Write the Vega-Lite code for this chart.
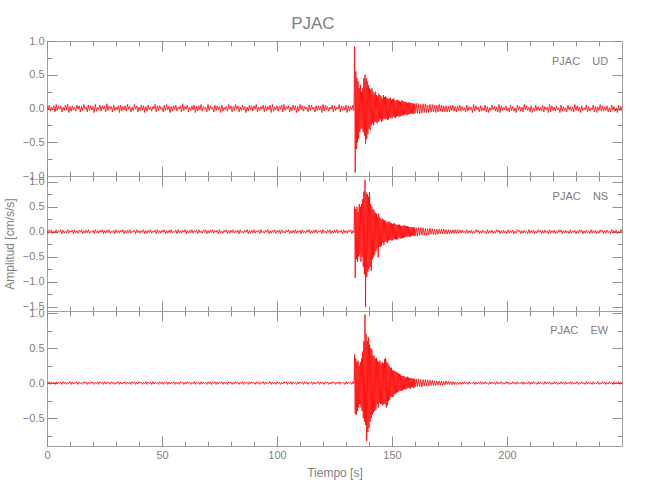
{
"$schema":"https://vega.github.io/schema/vega-lite/v6.json",
"background":"white",
"padding":{"left":2,"top":14,"right":5,"bottom":5},
"bounds":"flush",
"title":{"text":"PJAC","anchor":"middle","font":"Liberation Sans","fontSize":17,"fontWeight":"normal","color":"#808080","offset":2},
"config":{
 "font":"Liberation Sans",
 "view":{"stroke":"#a0a0a0","strokeWidth":1},
 "axis":{"domain":false,"grid":false,"tickColor":"#909090","tickWidth":1,"labelColor":"#808080","labelFont":"Liberation Sans","labelFontSize":11,"labelPadding":13,"titleColor":"#808080","titleFont":"Liberation Sans","titleFontSize":12,"titleFontWeight":"normal","labelFlush":false,"labelOverlap":false,"zindex":1},
 "concat":{"spacing":0}
},
"datasets":{"acc":[
{"t":0,"ud":0.03,"ns":0.02,"ew":0.01},{"t":1,"ud":0.05,"ns":0.04,"ew":0.02},{"t":2,"ud":0.02,"ns":0.03,"ew":0.015},{"t":3,"ud":0.04,"ns":0.01,"ew":0.01},{"t":4,"ud":0.06,"ns":0.04,"ew":0.02},{"t":5,"ud":0.03,"ns":0.02,"ew":0.015},{"t":6,"ud":0.04,"ns":0.04,"ew":0.01},{"t":7,"ud":0.02,"ns":0.03,"ew":0.02},{"t":8,"ud":0.05,"ns":0.01,"ew":0.015},{"t":9,"ud":0.06,"ns":0.04,"ew":0.01},
{"t":10,"ud":0.03,"ns":0.02,"ew":0.02},{"t":11,"ud":0.04,"ns":0.03,"ew":0.015},{"t":12,"ud":0.02,"ns":0.04,"ew":0.01},{"t":13,"ud":0.05,"ns":0.02,"ew":0.02},{"t":14,"ud":0.04,"ns":0.03,"ew":0.015},{"t":15,"ud":0.03,"ns":0.04,"ew":0.01},{"t":16,"ud":0.06,"ns":0.02,"ew":0.02},{"t":17,"ud":0.02,"ns":0.03,"ew":0.015},{"t":18,"ud":0.05,"ns":0.04,"ew":0.01},{"t":19,"ud":0.04,"ns":0.01,"ew":0.02},
{"t":20,"ud":0.03,"ns":0.03,"ew":0.015},{"t":21,"ud":0.06,"ns":0.04,"ew":0.01},{"t":22,"ud":0.02,"ns":0.02,"ew":0.02},{"t":23,"ud":0.05,"ns":0.03,"ew":0.015},{"t":24,"ud":0.04,"ns":0.04,"ew":0.01},{"t":25,"ud":0.03,"ns":0.02,"ew":0.02},{"t":26,"ud":0.07,"ns":0.03,"ew":0.015},{"t":27,"ud":0.04,"ns":0.04,"ew":0.01},{"t":28,"ud":0.03,"ns":0.01,"ew":0.02},{"t":29,"ud":0.05,"ns":0.03,"ew":0.015},
{"t":30,"ud":0.02,"ns":0.04,"ew":0.01},{"t":31,"ud":0.04,"ns":0.02,"ew":0.02},{"t":32,"ud":0.05,"ns":0.03,"ew":0.015},{"t":33,"ud":0.03,"ns":0.04,"ew":0.01},{"t":34,"ud":0.04,"ns":0.02,"ew":0.02},{"t":35,"ud":0.06,"ns":0.03,"ew":0.015},{"t":36,"ud":0.03,"ns":0.04,"ew":0.01},{"t":37,"ud":0.02,"ns":0.01,"ew":0.02},{"t":38,"ud":0.06,"ns":0.03,"ew":0.015},{"t":39,"ud":0.04,"ns":0.04,"ew":0.01},
{"t":40,"ud":0.02,"ns":0.02,"ew":0.02},{"t":41,"ud":0.05,"ns":0.03,"ew":0.015},{"t":42,"ud":0.04,"ns":0.04,"ew":0.01},{"t":43,"ud":0.03,"ns":0.02,"ew":0.02},{"t":44,"ud":0.05,"ns":0.03,"ew":0.015},{"t":45,"ud":0.02,"ns":0.04,"ew":0.01},{"t":46,"ud":0.03,"ns":0.01,"ew":0.02},{"t":47,"ud":0.06,"ns":0.03,"ew":0.015},{"t":48,"ud":0.04,"ns":0.04,"ew":0.01},{"t":49,"ud":0.04,"ns":0.02,"ew":0.02},
{"t":50,"ud":0.02,"ns":0.03,"ew":0.015},{"t":51,"ud":0.05,"ns":0.04,"ew":0.01},{"t":52,"ud":0.06,"ns":0.02,"ew":0.02},{"t":53,"ud":0.03,"ns":0.03,"ew":0.015},{"t":54,"ud":0.03,"ns":0.04,"ew":0.01},{"t":55,"ud":0.04,"ns":0.01,"ew":0.02},{"t":56,"ud":0.05,"ns":0.03,"ew":0.015},{"t":57,"ud":0.02,"ns":0.04,"ew":0.01},{"t":58,"ud":0.04,"ns":0.02,"ew":0.02},{"t":59,"ud":0.07,"ns":0.03,"ew":0.015},
{"t":60,"ud":0.03,"ns":0.04,"ew":0.01},{"t":61,"ud":0.05,"ns":0.02,"ew":0.02},{"t":62,"ud":0.02,"ns":0.03,"ew":0.015},{"t":63,"ud":0.04,"ns":0.04,"ew":0.01},{"t":64,"ud":0.05,"ns":0.02,"ew":0.02},{"t":65,"ud":0.03,"ns":0.03,"ew":0.015},{"t":66,"ud":0.04,"ns":0.04,"ew":0.01},{"t":67,"ud":0.06,"ns":0.01,"ew":0.02},{"t":68,"ud":0.03,"ns":0.03,"ew":0.015},{"t":69,"ud":0.02,"ns":0.04,"ew":0.01},
{"t":70,"ud":0.06,"ns":0.02,"ew":0.02},{"t":71,"ud":0.04,"ns":0.03,"ew":0.015},{"t":72,"ud":0.02,"ns":0.04,"ew":0.01},{"t":73,"ud":0.05,"ns":0.02,"ew":0.02},{"t":74,"ud":0.04,"ns":0.03,"ew":0.015},{"t":75,"ud":0.03,"ns":0.04,"ew":0.01},{"t":76,"ud":0.05,"ns":0.01,"ew":0.02},{"t":77,"ud":0.02,"ns":0.03,"ew":0.015},{"t":78,"ud":0.03,"ns":0.04,"ew":0.01},{"t":79,"ud":0.06,"ns":0.02,"ew":0.02},
{"t":80,"ud":0.04,"ns":0.03,"ew":0.015},{"t":81,"ud":0.03,"ns":0.04,"ew":0.01},{"t":82,"ud":0.06,"ns":0.02,"ew":0.02},{"t":83,"ud":0.04,"ns":0.03,"ew":0.015},{"t":84,"ud":0.02,"ns":0.04,"ew":0.01},{"t":85,"ud":0.05,"ns":0.01,"ew":0.02},{"t":86,"ud":0.03,"ns":0.03,"ew":0.015},{"t":87,"ud":0.02,"ns":0.04,"ew":0.01},{"t":88,"ud":0.05,"ns":0.02,"ew":0.02},{"t":89,"ud":0.04,"ns":0.03,"ew":0.015},
{"t":90,"ud":0.04,"ns":0.04,"ew":0.01},{"t":91,"ud":0.06,"ns":0.02,"ew":0.02},{"t":92,"ud":0.02,"ns":0.03,"ew":0.015},{"t":93,"ud":0.03,"ns":0.04,"ew":0.01},{"t":94,"ud":0.05,"ns":0.01,"ew":0.02},{"t":95,"ud":0.04,"ns":0.03,"ew":0.015},{"t":96,"ud":0.03,"ns":0.04,"ew":0.01},{"t":97,"ud":0.05,"ns":0.02,"ew":0.02},{"t":98,"ud":0.06,"ns":0.03,"ew":0.015},{"t":99,"ud":0.02,"ns":0.04,"ew":0.01},
{"t":100,"ud":0.04,"ns":0.02,"ew":0.02},{"t":101,"ud":0.03,"ns":0.03,"ew":0.015},{"t":102,"ud":0.05,"ns":0.04,"ew":0.01},{"t":103,"ud":0.06,"ns":0.01,"ew":0.02},{"t":104,"ud":0.03,"ns":0.03,"ew":0.015},{"t":105,"ud":0.04,"ns":0.04,"ew":0.01},{"t":106,"ud":0.02,"ns":0.02,"ew":0.02},{"t":107,"ud":0.05,"ns":0.03,"ew":0.015},{"t":108,"ud":0.04,"ns":0.04,"ew":0.01},{"t":109,"ud":0.03,"ns":0.02,"ew":0.02},
{"t":110,"ud":0.06,"ns":0.03,"ew":0.015},{"t":111,"ud":0.04,"ns":0.04,"ew":0.01},{"t":112,"ud":0.03,"ns":0.01,"ew":0.02},{"t":113,"ud":0.02,"ns":0.03,"ew":0.015},{"t":114,"ud":0.05,"ns":0.04,"ew":0.01},{"t":115,"ud":0.05,"ns":0.02,"ew":0.02},{"t":116,"ud":0.02,"ns":0.03,"ew":0.015},{"t":117,"ud":0.04,"ns":0.04,"ew":0.01},{"t":118,"ud":0.04,"ns":0.02,"ew":0.02},{"t":119,"ud":0.03,"ns":0.03,"ew":0.015},
{"t":120,"ud":0.06,"ns":0.04,"ew":0.01},{"t":121,"ud":0.05,"ns":0.01,"ew":0.02},{"t":122,"ud":0.03,"ns":0.03,"ew":0.015},{"t":123,"ud":0.02,"ns":0.04,"ew":0.01},{"t":124,"ud":0.05,"ns":0.02,"ew":0.02},{"t":125,"ud":0.04,"ns":0.03,"ew":0.015},{"t":126,"ud":0.02,"ns":0.04,"ew":0.01},{"t":127,"ud":0.06,"ns":0.02,"ew":0.02},{"t":128,"ud":0.04,"ns":0.03,"ew":0.015},{"t":129,"ud":0.03,"ns":0.04,"ew":0.01},
{"t":130,"ud":0.05,"ns":0.02,"ew":0.02},{"t":131,"ud":0.04,"ns":0.03,"ew":0.015},{"t":132,"ud":0.03,"ns":0.04,"ew":0.01},{"t":133,"ud":0.05,"ns":0.02,"ew":0.02},
{"t":133.25,"ud":-0.03,"ns":-0.02,"ew":-0.01},{"t":133.5,"ud":0.04,"ns":0.03,"ew":0.015},{"t":133.75,"ud":0.92,"ns":0.5,"ew":0.41},{"t":134,"ud":-0.95,"ns":-0.92,"ew":-0.44},
{"t":134.25,"ud":0.55,"ns":0.45,"ew":0.35},{"t":134.5,"ud":-0.6,"ns":-0.55,"ew":-0.45},{"t":134.75,"ud":0.45,"ns":0.5,"ew":0.3},{"t":135,"ud":-0.5,"ns":-0.6,"ew":-0.4},
{"t":135.25,"ud":0.4,"ns":0.4,"ew":0.32},{"t":135.5,"ud":-0.45,"ns":-0.5,"ew":-0.35},{"t":135.75,"ud":0.3,"ns":0.55,"ew":0.25},{"t":136,"ud":-0.35,"ns":-0.45,"ew":-0.3},
{"t":136.25,"ud":0.35,"ns":0.5,"ew":0.3},{"t":136.5,"ud":-0.3,"ns":-0.6,"ew":-0.35},{"t":136.75,"ud":0.25,"ns":0.55,"ew":0.35},{"t":137,"ud":-0.3,"ns":-0.5,"ew":-0.4},
{"t":137.25,"ud":0.3,"ns":0.65,"ew":0.45},{"t":137.5,"ud":-0.35,"ns":-0.7,"ew":-0.5},{"t":137.75,"ud":0.45,"ns":0.8,"ew":0.6},{"t":138,"ud":-0.4,"ns":-0.85,"ew":-0.55},
{"t":138.25,"ud":0.5,"ns":1.03,"ew":0.98},{"t":138.5,"ud":-0.52,"ns":-1.5,"ew":-0.6},{"t":138.75,"ud":0.45,"ns":0.78,"ew":0.7},{"t":139,"ud":-0.45,"ns":-0.9,"ew":-0.83},
{"t":139.25,"ud":0.4,"ns":0.75,"ew":0.6},{"t":139.5,"ud":-0.38,"ns":-0.8,"ew":-0.7},{"t":139.75,"ud":0.35,"ns":0.7,"ew":0.65},{"t":140,"ud":-0.3,"ns":-0.75,"ew":-0.64},
{"t":140.25,"ud":0.3,"ns":0.79,"ew":0.55},{"t":140.5,"ud":-0.32,"ns":-0.7,"ew":-0.55},{"t":140.75,"ud":0.28,"ns":0.55,"ew":0.5},{"t":141,"ud":-0.25,"ns":-0.78,"ew":-0.5},
{"t":141.25,"ud":0.3,"ns":0.5,"ew":0.48},{"t":141.5,"ud":-0.22,"ns":-0.55,"ew":-0.45},{"t":141.75,"ud":0.25,"ns":0.45,"ew":0.4},{"t":142,"ud":-0.25,"ns":-0.5,"ew":-0.42},
{"t":142.25,"ud":0.22,"ns":0.42,"ew":0.38},{"t":142.5,"ud":-0.2,"ns":-0.45,"ew":-0.4},{"t":142.75,"ud":0.25,"ns":0.38,"ew":0.35},{"t":143,"ud":-0.2,"ns":-0.4,"ew":-0.38},
{"t":143.25,"ud":0.2,"ns":0.36,"ew":0.36},{"t":143.5,"ud":-0.22,"ns":-0.35,"ew":-0.3},{"t":143.75,"ud":0.18,"ns":0.3,"ew":0.32},{"t":144,"ud":-0.2,"ns":-0.51,"ew":-0.35},
{"t":144.25,"ud":0.22,"ns":0.36,"ew":0.3},{"t":144.5,"ud":-0.18,"ns":-0.3,"ew":-0.28},{"t":144.75,"ud":0.2,"ns":0.28,"ew":0.32},{"t":145,"ud":-0.16,"ns":-0.3,"ew":-0.3},
{"t":145.25,"ud":0.18,"ns":0.25,"ew":0.28},{"t":145.5,"ud":-0.2,"ns":-0.28,"ew":-0.3},{"t":145.75,"ud":0.15,"ns":0.26,"ew":0.3},{"t":146,"ud":-0.18,"ns":-0.22,"ew":-0.32},
{"t":146.25,"ud":0.2,"ns":0.24,"ew":0.28},{"t":146.5,"ud":-0.15,"ns":-0.26,"ew":-0.3},{"t":146.75,"ud":0.17,"ns":0.22,"ew":0.34},{"t":147,"ud":-0.16,"ns":-0.2,"ew":-0.3},
{"t":147.25,"ud":0.18,"ns":0.22,"ew":0.36},{"t":147.5,"ud":-0.15,"ns":-0.2,"ew":-0.35},{"t":147.75,"ud":0.16,"ns":0.18,"ew":0.3},{"t":148,"ud":-0.17,"ns":-0.22,"ew":-0.32},
{"t":148.25,"ud":0.14,"ns":0.2,"ew":0.28},{"t":148.5,"ud":-0.16,"ns":-0.18,"ew":-0.26},{"t":148.75,"ud":0.15,"ns":0.2,"ew":0.25},{"t":149,"ud":-0.13,"ns":-0.17,"ew":-0.24},
{"t":149.25,"ud":0.16,"ns":0.18,"ew":0.22},{"t":149.5,"ud":-0.14,"ns":-0.16,"ew":-0.2},{"t":149.75,"ud":0.13,"ns":0.17,"ew":0.22},{"t":150,"ud":-0.15,"ns":-0.18,"ew":-0.2},
{"t":150.25,"ud":0.14,"ns":0.15,"ew":0.18},{"t":150.5,"ud":-0.12,"ns":-0.16,"ew":-0.2},{"t":150.75,"ud":0.15,"ns":0.17,"ew":0.18},{"t":151,"ud":-0.13,"ns":-0.14,"ew":-0.16},
{"t":151.25,"ud":0.12,"ns":0.16,"ew":0.17},{"t":151.5,"ud":-0.14,"ns":-0.15,"ew":-0.15},{"t":151.75,"ud":0.12,"ns":0.14,"ew":0.16},{"t":152,"ud":-0.12,"ns":-0.16,"ew":-0.14},
{"t":152.25,"ud":0.13,"ns":0.13,"ew":0.15},{"t":152.5,"ud":-0.11,"ns":-0.15,"ew":-0.13},{"t":152.75,"ud":0.12,"ns":0.14,"ew":0.14},{"t":153,"ud":-0.12,"ns":-0.12,"ew":-0.12},
{"t":153.25,"ud":0.11,"ns":0.14,"ew":0.13},{"t":153.5,"ud":-0.12,"ns":-0.13,"ew":-0.11},{"t":153.75,"ud":0.1,"ns":0.12,"ew":0.12},{"t":154,"ud":-0.11,"ns":-0.14,"ew":-0.11},
{"t":154.25,"ud":0.12,"ns":0.12,"ew":0.1},{"t":154.5,"ud":-0.1,"ns":-0.13,"ew":-0.11},{"t":154.75,"ud":0.11,"ns":0.11,"ew":0.1},{"t":155,"ud":-0.1,"ns":-0.12,"ew":-0.09},
{"t":155.25,"ud":0.1,"ns":0.13,"ew":0.1},{"t":155.5,"ud":-0.09,"ns":-0.11,"ew":-0.09},{"t":155.75,"ud":0.1,"ns":0.12,"ew":0.08},{"t":156,"ud":-0.09,"ns":-0.1,"ew":-0.09},
{"t":156.25,"ud":0.09,"ns":0.11,"ew":0.08},{"t":156.5,"ud":-0.1,"ns":-0.1,"ew":-0.08},{"t":156.75,"ud":0.08,"ns":0.11,"ew":0.09},{"t":157,"ud":-0.09,"ns":-0.09,"ew":-0.07},
{"t":157.25,"ud":0.09,"ns":0.1,"ew":0.08},{"t":157.5,"ud":-0.08,"ns":-0.1,"ew":-0.07},{"t":157.75,"ud":0.09,"ns":0.09,"ew":0.07},{"t":158,"ud":-0.08,"ns":-0.1,"ew":-0.08},
{"t":158.25,"ud":0.08,"ns":0.09,"ew":0.07},{"t":158.5,"ud":-0.07,"ns":-0.08,"ew":-0.06},{"t":158.75,"ud":0.08,"ns":0.09,"ew":0.07},{"t":159,"ud":-0.08,"ns":-0.08,"ew":-0.06},
{"t":159.25,"ud":0.07,"ns":0.09,"ew":0.06},{"t":159.5,"ud":-0.08,"ns":-0.08,"ew":-0.07},{"t":159.75,"ud":0.07,"ns":0.08,"ew":0.06},{"t":160,"ud":-0.07,"ns":-0.09,"ew":-0.06},
{"t":160.5,"ud":0.08,"ns":0.08,"ew":0.06},{"t":161,"ud":-0.07,"ns":-0.09,"ew":-0.05},{"t":161.5,"ud":0.07,"ns":0.08,"ew":0.06},{"t":162,"ud":-0.08,"ns":-0.07,"ew":-0.05},
{"t":162.5,"ud":0.06,"ns":0.08,"ew":0.05},{"t":163,"ud":-0.07,"ns":-0.07,"ew":-0.06},{"t":163.5,"ud":0.07,"ns":0.08,"ew":0.05},{"t":164,"ud":-0.06,"ns":-0.07,"ew":-0.04},
{"t":164.5,"ud":0.07,"ns":0.06,"ew":0.05},{"t":165,"ud":-0.06,"ns":-0.07,"ew":-0.04},{"t":165.5,"ud":0.05,"ns":0.06,"ew":0.045},{"t":166,"ud":-0.06,"ns":-0.06,"ew":-0.04},
{"t":166.5,"ud":0.06,"ns":0.07,"ew":0.04},{"t":167,"ud":-0.05,"ns":-0.05,"ew":-0.035},{"t":167.5,"ud":0.06,"ns":0.06,"ew":0.04},{"t":168,"ud":-0.05,"ns":-0.06,"ew":-0.035},
{"t":168.5,"ud":0.05,"ns":0.05,"ew":0.03},{"t":169,"ud":-0.06,"ns":-0.06,"ew":-0.035},{"t":169.5,"ud":0.05,"ns":0.05,"ew":0.03},{"t":170,"ud":-0.05,"ns":-0.05,"ew":-0.03},
{"t":170.5,"ud":0.06,"ns":0.05,"ew":0.03},{"t":171,"ud":-0.04,"ns":-0.04,"ew":-0.03},{"t":171.5,"ud":0.05,"ns":0.05,"ew":0.025},{"t":172,"ud":-0.05,"ns":-0.04,"ew":-0.03},
{"t":172.5,"ud":0.04,"ns":0.05,"ew":0.025},{"t":173,"ud":-0.05,"ns":-0.04,"ew":-0.025},{"t":173.5,"ud":0.04,"ns":0.04,"ew":0.03},{"t":174,"ud":-0.05,"ns":-0.05,"ew":-0.02},
{"t":174.5,"ud":0.03,"ns":0.04,"ew":0.025},{"t":175,"ud":-0.05,"ns":-0.04,"ew":-0.02},{"t":175.5,"ud":0.04,"ns":0.03,"ew":0.02},{"t":176,"ud":-0.03,"ns":-0.04,"ew":-0.025},
{"t":176.5,"ud":0.05,"ns":0.04,"ew":0.02},{"t":177,"ud":-0.04,"ns":-0.03,"ew":-0.02},{"t":177.5,"ud":0.03,"ns":0.04,"ew":0.015},{"t":178,"ud":-0.05,"ns":-0.03,"ew":-0.02},
{"t":178.5,"ud":0.04,"ns":0.04,"ew":0.015},{"t":179,"ud":-0.03,"ns":-0.03,"ew":-0.02},{"t":179.5,"ud":0.05,"ns":0.04,"ew":0.015},{"t":180,"ud":-0.04,"ns":-0.03,"ew":-0.02},
{"t":180.5,"ud":0.03,"ns":0.03,"ew":0.015},
{"t":181,"ud":-0.03,"ns":-0.02,"ew":-0.015},{"t":182,"ud":-0.05,"ns":-0.04,"ew":-0.01},{"t":183,"ud":-0.04,"ns":-0.03,"ew":-0.02},{"t":184,"ud":-0.02,"ns":-0.02,"ew":-0.015},{"t":185,"ud":-0.06,"ns":-0.04,"ew":-0.01},{"t":186,"ud":-0.04,"ns":-0.03,"ew":-0.02},{"t":187,"ud":-0.02,"ns":-0.01,"ew":-0.015},{"t":188,"ud":-0.05,"ns":-0.04,"ew":-0.01},{"t":189,"ud":-0.04,"ns":-0.03,"ew":-0.02},{"t":190,"ud":-0.03,"ns":-0.02,"ew":-0.015},
{"t":191,"ud":-0.05,"ns":-0.04,"ew":-0.01},{"t":192,"ud":-0.06,"ns":-0.03,"ew":-0.02},{"t":193,"ud":-0.03,"ns":-0.02,"ew":-0.015},{"t":194,"ud":-0.02,"ns":-0.04,"ew":-0.01},{"t":195,"ud":-0.04,"ns":-0.03,"ew":-0.02},{"t":196,"ud":-0.05,"ns":-0.01,"ew":-0.015},{"t":197,"ud":-0.06,"ns":-0.04,"ew":-0.01},{"t":198,"ud":-0.03,"ns":-0.03,"ew":-0.02},{"t":199,"ud":-0.02,"ns":-0.02,"ew":-0.015},{"t":200,"ud":-0.04,"ns":-0.04,"ew":-0.01},
{"t":201,"ud":-0.05,"ns":-0.03,"ew":-0.02},{"t":202,"ud":-0.03,"ns":-0.02,"ew":-0.015},{"t":203,"ud":-0.04,"ns":-0.04,"ew":-0.01},{"t":204,"ud":-0.06,"ns":-0.03,"ew":-0.02},{"t":205,"ud":-0.02,"ns":-0.01,"ew":-0.015},{"t":206,"ud":-0.04,"ns":-0.04,"ew":-0.01},{"t":207,"ud":-0.05,"ns":-0.03,"ew":-0.02},{"t":208,"ud":-0.02,"ns":-0.02,"ew":-0.015},{"t":209,"ud":-0.03,"ns":-0.04,"ew":-0.01},{"t":210,"ud":-0.05,"ns":-0.03,"ew":-0.02},
{"t":211,"ud":-0.06,"ns":-0.02,"ew":-0.015},{"t":212,"ud":-0.04,"ns":-0.04,"ew":-0.01},{"t":213,"ud":-0.03,"ns":-0.03,"ew":-0.02},{"t":214,"ud":-0.03,"ns":-0.01,"ew":-0.015},{"t":215,"ud":-0.04,"ns":-0.04,"ew":-0.01},{"t":216,"ud":-0.05,"ns":-0.03,"ew":-0.02},{"t":217,"ud":-0.02,"ns":-0.02,"ew":-0.015},{"t":218,"ud":-0.06,"ns":-0.04,"ew":-0.01},{"t":219,"ud":-0.05,"ns":-0.03,"ew":-0.02},{"t":220,"ud":-0.03,"ns":-0.02,"ew":-0.015},
{"t":221,"ud":-0.04,"ns":-0.04,"ew":-0.01},{"t":222,"ud":-0.02,"ns":-0.03,"ew":-0.02},{"t":223,"ud":-0.06,"ns":-0.01,"ew":-0.015},{"t":224,"ud":-0.04,"ns":-0.04,"ew":-0.01},{"t":225,"ud":-0.03,"ns":-0.03,"ew":-0.02},{"t":226,"ud":-0.05,"ns":-0.02,"ew":-0.015},{"t":227,"ud":-0.02,"ns":-0.04,"ew":-0.01},{"t":228,"ud":-0.04,"ns":-0.03,"ew":-0.02},{"t":229,"ud":-0.05,"ns":-0.02,"ew":-0.015},{"t":230,"ud":-0.03,"ns":-0.04,"ew":-0.01},
{"t":231,"ud":-0.04,"ns":-0.03,"ew":-0.02},{"t":232,"ud":-0.06,"ns":-0.01,"ew":-0.015},{"t":233,"ud":-0.03,"ns":-0.04,"ew":-0.01},{"t":234,"ud":-0.02,"ns":-0.03,"ew":-0.02},{"t":235,"ud":-0.05,"ns":-0.02,"ew":-0.015},{"t":236,"ud":-0.04,"ns":-0.04,"ew":-0.01},{"t":237,"ud":-0.02,"ns":-0.03,"ew":-0.02},{"t":238,"ud":-0.05,"ns":-0.02,"ew":-0.015},{"t":239,"ud":-0.06,"ns":-0.04,"ew":-0.01},{"t":240,"ud":-0.03,"ns":-0.03,"ew":-0.02},
{"t":241,"ud":-0.04,"ns":-0.01,"ew":-0.015},{"t":242,"ud":-0.04,"ns":-0.04,"ew":-0.01},{"t":243,"ud":-0.03,"ns":-0.03,"ew":-0.02},{"t":244,"ud":-0.05,"ns":-0.02,"ew":-0.015},{"t":245,"ud":-0.05,"ns":-0.04,"ew":-0.01},{"t":246,"ud":-0.02,"ns":-0.03,"ew":-0.02},{"t":247,"ud":-0.04,"ns":-0.02,"ew":-0.015},{"t":248,"ud":-0.06,"ns":-0.04,"ew":-0.01},{"t":249,"ud":-0.03,"ns":-0.03,"ew":-0.02},{"t":250,"ud":-0.04,"ns":-0.02,"ew":-0.015},
{"t":0.5,"ud":-0.02,"ns":-0.03,"ew":-0.01},{"t":1.5,"ud":-0.04,"ns":-0.01,"ew":-0.02},{"t":2.5,"ud":-0.01,"ns":-0.04,"ew":-0.005},{"t":3.5,"ud":-0.05,"ns":-0.02,"ew":-0.02},{"t":4.5,"ud":-0.03,"ns":-0.03,"ew":-0.015},{"t":5.5,"ud":-0.01,"ns":-0.01,"ew":-0.005},{"t":6.5,"ud":-0.05,"ns":-0.04,"ew":-0.02},{"t":7.5,"ud":-0.03,"ns":-0.03,"ew":-0.01},{"t":8.5,"ud":-0.02,"ns":-0.02,"ew":-0.02},{"t":9.5,"ud":-0.06,"ns":-0.03,"ew":-0.005},
{"t":10.5,"ud":-0.04,"ns":-0.01,"ew":-0.02},{"t":11.5,"ud":-0.02,"ns":-0.04,"ew":-0.015},{"t":12.5,"ud":-0.04,"ns":-0.02,"ew":-0.005},{"t":13.5,"ud":-0.01,"ns":-0.03,"ew":-0.02},{"t":14.5,"ud":-0.05,"ns":-0.01,"ew":-0.01},{"t":15.5,"ud":-0.03,"ns":-0.04,"ew":-0.02},{"t":16.5,"ud":-0.01,"ns":-0.03,"ew":-0.005},{"t":17.5,"ud":-0.05,"ns":-0.02,"ew":-0.02},{"t":18.5,"ud":-0.03,"ns":-0.03,"ew":-0.015},{"t":19.5,"ud":-0.02,"ns":-0.01,"ew":-0.005},
{"t":20.5,"ud":-0.06,"ns":-0.04,"ew":-0.02},{"t":21.5,"ud":-0.04,"ns":-0.02,"ew":-0.01},{"t":22.5,"ud":-0.02,"ns":-0.03,"ew":-0.02},{"t":23.5,"ud":-0.04,"ns":-0.01,"ew":-0.005},{"t":24.5,"ud":-0.01,"ns":-0.04,"ew":-0.02},{"t":25.5,"ud":-0.05,"ns":-0.03,"ew":-0.015},{"t":26.5,"ud":-0.03,"ns":-0.02,"ew":-0.005},{"t":27.5,"ud":-0.01,"ns":-0.03,"ew":-0.02},{"t":28.5,"ud":-0.05,"ns":-0.01,"ew":-0.01},{"t":29.5,"ud":-0.03,"ns":-0.04,"ew":-0.02},
{"t":30.5,"ud":-0.02,"ns":-0.02,"ew":-0.005},{"t":31.5,"ud":-0.06,"ns":-0.03,"ew":-0.02},{"t":32.5,"ud":-0.04,"ns":-0.01,"ew":-0.015},{"t":33.5,"ud":-0.02,"ns":-0.04,"ew":-0.005},{"t":34.5,"ud":-0.04,"ns":-0.03,"ew":-0.02},{"t":35.5,"ud":-0.01,"ns":-0.02,"ew":-0.01},{"t":36.5,"ud":-0.05,"ns":-0.03,"ew":-0.02},{"t":37.5,"ud":-0.03,"ns":-0.01,"ew":-0.005},{"t":38.5,"ud":-0.01,"ns":-0.04,"ew":-0.02},{"t":39.5,"ud":-0.05,"ns":-0.02,"ew":-0.015},
{"t":40.5,"ud":-0.03,"ns":-0.03,"ew":-0.005},{"t":41.5,"ud":-0.02,"ns":-0.01,"ew":-0.02},{"t":42.5,"ud":-0.06,"ns":-0.04,"ew":-0.01},{"t":43.5,"ud":-0.04,"ns":-0.03,"ew":-0.02},{"t":44.5,"ud":-0.02,"ns":-0.02,"ew":-0.005},{"t":45.5,"ud":-0.04,"ns":-0.03,"ew":-0.02},{"t":46.5,"ud":-0.01,"ns":-0.01,"ew":-0.015},{"t":47.5,"ud":-0.05,"ns":-0.04,"ew":-0.005},{"t":48.5,"ud":-0.03,"ns":-0.02,"ew":-0.02},{"t":49.5,"ud":-0.01,"ns":-0.03,"ew":-0.01},
{"t":50.5,"ud":-0.05,"ns":-0.01,"ew":-0.02},{"t":51.5,"ud":-0.03,"ns":-0.04,"ew":-0.005},{"t":52.5,"ud":-0.02,"ns":-0.03,"ew":-0.02},{"t":53.5,"ud":-0.06,"ns":-0.02,"ew":-0.015},{"t":54.5,"ud":-0.04,"ns":-0.03,"ew":-0.005},{"t":55.5,"ud":-0.02,"ns":-0.01,"ew":-0.02},{"t":56.5,"ud":-0.04,"ns":-0.04,"ew":-0.01},{"t":57.5,"ud":-0.01,"ns":-0.02,"ew":-0.02},{"t":58.5,"ud":-0.05,"ns":-0.03,"ew":-0.005},{"t":59.5,"ud":-0.03,"ns":-0.01,"ew":-0.02},
{"t":60.5,"ud":-0.01,"ns":-0.04,"ew":-0.015},{"t":61.5,"ud":-0.05,"ns":-0.03,"ew":-0.005},{"t":62.5,"ud":-0.03,"ns":-0.02,"ew":-0.02},{"t":63.5,"ud":-0.02,"ns":-0.03,"ew":-0.01},{"t":64.5,"ud":-0.06,"ns":-0.01,"ew":-0.02},{"t":65.5,"ud":-0.04,"ns":-0.04,"ew":-0.005},{"t":66.5,"ud":-0.02,"ns":-0.02,"ew":-0.02},{"t":67.5,"ud":-0.04,"ns":-0.03,"ew":-0.015},{"t":68.5,"ud":-0.01,"ns":-0.01,"ew":-0.005},{"t":69.5,"ud":-0.05,"ns":-0.04,"ew":-0.02},
{"t":70.5,"ud":-0.03,"ns":-0.03,"ew":-0.01},{"t":71.5,"ud":-0.01,"ns":-0.02,"ew":-0.02},{"t":72.5,"ud":-0.05,"ns":-0.03,"ew":-0.005},{"t":73.5,"ud":-0.03,"ns":-0.01,"ew":-0.02},{"t":74.5,"ud":-0.02,"ns":-0.04,"ew":-0.015},{"t":75.5,"ud":-0.06,"ns":-0.02,"ew":-0.005},{"t":76.5,"ud":-0.04,"ns":-0.03,"ew":-0.02},{"t":77.5,"ud":-0.02,"ns":-0.01,"ew":-0.01},{"t":78.5,"ud":-0.04,"ns":-0.04,"ew":-0.02},{"t":79.5,"ud":-0.01,"ns":-0.03,"ew":-0.005},
{"t":80.5,"ud":-0.05,"ns":-0.02,"ew":-0.02},{"t":81.5,"ud":-0.03,"ns":-0.03,"ew":-0.015},{"t":82.5,"ud":-0.01,"ns":-0.01,"ew":-0.005},{"t":83.5,"ud":-0.05,"ns":-0.04,"ew":-0.02},{"t":84.5,"ud":-0.03,"ns":-0.02,"ew":-0.01},{"t":85.5,"ud":-0.02,"ns":-0.03,"ew":-0.02},{"t":86.5,"ud":-0.06,"ns":-0.01,"ew":-0.005},{"t":87.5,"ud":-0.04,"ns":-0.04,"ew":-0.02},{"t":88.5,"ud":-0.02,"ns":-0.03,"ew":-0.015},{"t":89.5,"ud":-0.04,"ns":-0.02,"ew":-0.005},
{"t":90.5,"ud":-0.01,"ns":-0.03,"ew":-0.02},{"t":91.5,"ud":-0.05,"ns":-0.01,"ew":-0.01},{"t":92.5,"ud":-0.03,"ns":-0.04,"ew":-0.02},{"t":93.5,"ud":-0.01,"ns":-0.02,"ew":-0.005},{"t":94.5,"ud":-0.05,"ns":-0.03,"ew":-0.02},{"t":95.5,"ud":-0.03,"ns":-0.01,"ew":-0.015},{"t":96.5,"ud":-0.02,"ns":-0.04,"ew":-0.005},{"t":97.5,"ud":-0.06,"ns":-0.03,"ew":-0.02},{"t":98.5,"ud":-0.04,"ns":-0.02,"ew":-0.01},{"t":99.5,"ud":-0.02,"ns":-0.03,"ew":-0.02},
{"t":100.5,"ud":-0.04,"ns":-0.01,"ew":-0.005},{"t":101.5,"ud":-0.01,"ns":-0.04,"ew":-0.02},{"t":102.5,"ud":-0.05,"ns":-0.02,"ew":-0.015},{"t":103.5,"ud":-0.03,"ns":-0.03,"ew":-0.005},{"t":104.5,"ud":-0.01,"ns":-0.01,"ew":-0.02},{"t":105.5,"ud":-0.05,"ns":-0.04,"ew":-0.01},{"t":106.5,"ud":-0.03,"ns":-0.03,"ew":-0.02},{"t":107.5,"ud":-0.02,"ns":-0.02,"ew":-0.005},{"t":108.5,"ud":-0.06,"ns":-0.03,"ew":-0.02},{"t":109.5,"ud":-0.04,"ns":-0.01,"ew":-0.015},
{"t":110.5,"ud":-0.02,"ns":-0.04,"ew":-0.005},{"t":111.5,"ud":-0.04,"ns":-0.02,"ew":-0.02},{"t":112.5,"ud":-0.01,"ns":-0.03,"ew":-0.01},{"t":113.5,"ud":-0.05,"ns":-0.01,"ew":-0.02},{"t":114.5,"ud":-0.03,"ns":-0.04,"ew":-0.005},{"t":115.5,"ud":-0.01,"ns":-0.03,"ew":-0.02},{"t":116.5,"ud":-0.05,"ns":-0.02,"ew":-0.015},{"t":117.5,"ud":-0.03,"ns":-0.03,"ew":-0.005},{"t":118.5,"ud":-0.02,"ns":-0.01,"ew":-0.02},{"t":119.5,"ud":-0.06,"ns":-0.04,"ew":-0.01},
{"t":120.5,"ud":-0.04,"ns":-0.02,"ew":-0.02},{"t":121.5,"ud":-0.02,"ns":-0.03,"ew":-0.005},{"t":122.5,"ud":-0.04,"ns":-0.01,"ew":-0.02},{"t":123.5,"ud":-0.01,"ns":-0.04,"ew":-0.015},{"t":124.5,"ud":-0.05,"ns":-0.03,"ew":-0.005},{"t":125.5,"ud":-0.03,"ns":-0.02,"ew":-0.02},{"t":126.5,"ud":-0.01,"ns":-0.03,"ew":-0.01},{"t":127.5,"ud":-0.05,"ns":-0.01,"ew":-0.02},{"t":128.5,"ud":-0.03,"ns":-0.04,"ew":-0.005},{"t":129.5,"ud":-0.02,"ns":-0.02,"ew":-0.02},
{"t":130.5,"ud":-0.06,"ns":-0.03,"ew":-0.015},{"t":131.5,"ud":-0.04,"ns":-0.01,"ew":-0.005},{"t":132.5,"ud":-0.02,"ns":-0.04,"ew":-0.02},
{"t":181.5,"ud":0.01,"ns":0.01,"ew":0.02},{"t":182.5,"ud":0.05,"ns":0.04,"ew":0.01},{"t":183.5,"ud":0.03,"ns":0.02,"ew":0.02},{"t":184.5,"ud":0.02,"ns":0.03,"ew":0.005},{"t":185.5,"ud":0.06,"ns":0.01,"ew":0.02},{"t":186.5,"ud":0.04,"ns":0.04,"ew":0.015},{"t":187.5,"ud":0.02,"ns":0.03,"ew":0.005},{"t":188.5,"ud":0.04,"ns":0.02,"ew":0.02},{"t":189.5,"ud":0.01,"ns":0.03,"ew":0.01},
{"t":190.5,"ud":0.05,"ns":0.01,"ew":0.02},{"t":191.5,"ud":0.03,"ns":0.04,"ew":0.005},{"t":192.5,"ud":0.01,"ns":0.02,"ew":0.02},{"t":193.5,"ud":0.05,"ns":0.03,"ew":0.015},{"t":194.5,"ud":0.03,"ns":0.01,"ew":0.005},{"t":195.5,"ud":0.02,"ns":0.04,"ew":0.02},{"t":196.5,"ud":0.06,"ns":0.03,"ew":0.01},{"t":197.5,"ud":0.04,"ns":0.02,"ew":0.02},{"t":198.5,"ud":0.02,"ns":0.03,"ew":0.005},{"t":199.5,"ud":0.04,"ns":0.01,"ew":0.02},
{"t":200.5,"ud":0.01,"ns":0.04,"ew":0.015},{"t":201.5,"ud":0.05,"ns":0.02,"ew":0.005},{"t":202.5,"ud":0.03,"ns":0.03,"ew":0.02},{"t":203.5,"ud":0.01,"ns":0.01,"ew":0.01},{"t":204.5,"ud":0.05,"ns":0.04,"ew":0.02},{"t":205.5,"ud":0.03,"ns":0.03,"ew":0.005},{"t":206.5,"ud":0.02,"ns":0.02,"ew":0.02},{"t":207.5,"ud":0.06,"ns":0.03,"ew":0.015},{"t":208.5,"ud":0.04,"ns":0.01,"ew":0.005},{"t":209.5,"ud":0.02,"ns":0.04,"ew":0.02},
{"t":210.5,"ud":0.04,"ns":0.02,"ew":0.01},{"t":211.5,"ud":0.01,"ns":0.03,"ew":0.02},{"t":212.5,"ud":0.05,"ns":0.01,"ew":0.005},{"t":213.5,"ud":0.03,"ns":0.04,"ew":0.02},{"t":214.5,"ud":0.01,"ns":0.03,"ew":0.015},{"t":215.5,"ud":0.05,"ns":0.02,"ew":0.005},{"t":216.5,"ud":0.03,"ns":0.03,"ew":0.02},{"t":217.5,"ud":0.02,"ns":0.01,"ew":0.01},{"t":218.5,"ud":0.06,"ns":0.04,"ew":0.02},{"t":219.5,"ud":0.04,"ns":0.02,"ew":0.005},
{"t":220.5,"ud":0.02,"ns":0.03,"ew":0.02},{"t":221.5,"ud":0.04,"ns":0.01,"ew":0.015},{"t":222.5,"ud":0.01,"ns":0.04,"ew":0.005},{"t":223.5,"ud":0.05,"ns":0.03,"ew":0.02},{"t":224.5,"ud":0.03,"ns":0.02,"ew":0.01},{"t":225.5,"ud":0.01,"ns":0.03,"ew":0.02},{"t":226.5,"ud":0.05,"ns":0.01,"ew":0.005},{"t":227.5,"ud":0.03,"ns":0.04,"ew":0.02},{"t":228.5,"ud":0.02,"ns":0.02,"ew":0.015},{"t":229.5,"ud":0.06,"ns":0.03,"ew":0.005},
{"t":230.5,"ud":0.04,"ns":0.01,"ew":0.02},{"t":231.5,"ud":0.02,"ns":0.04,"ew":0.01},{"t":232.5,"ud":0.04,"ns":0.03,"ew":0.02},{"t":233.5,"ud":0.01,"ns":0.02,"ew":0.005},{"t":234.5,"ud":0.05,"ns":0.03,"ew":0.02},{"t":235.5,"ud":0.03,"ns":0.01,"ew":0.015},{"t":236.5,"ud":0.01,"ns":0.04,"ew":0.005},{"t":237.5,"ud":0.05,"ns":0.02,"ew":0.02},{"t":238.5,"ud":0.03,"ns":0.03,"ew":0.01},{"t":239.5,"ud":0.02,"ns":0.01,"ew":0.02},
{"t":240.5,"ud":0.06,"ns":0.04,"ew":0.005},{"t":241.5,"ud":0.04,"ns":0.03,"ew":0.02},{"t":242.5,"ud":0.02,"ns":0.02,"ew":0.015},{"t":243.5,"ud":0.04,"ns":0.03,"ew":0.005},{"t":244.5,"ud":0.01,"ns":0.01,"ew":0.02},{"t":245.5,"ud":0.05,"ns":0.04,"ew":0.01},{"t":246.5,"ud":0.03,"ns":0.02,"ew":0.02},{"t":247.5,"ud":0.01,"ns":0.03,"ew":0.005},{"t":248.5,"ud":0.05,"ns":0.01,"ew":0.02},{"t":249.5,"ud":0.03,"ns":0.04,"ew":0.015}
]},
"vconcat":[
{"width":575,"height":135,"data":{"name":"acc"},
 "layer":[
  {"mark":{"type":"line","color":"#ff0000","strokeWidth":0.8,"clip":true},
   "encoding":{"x":{"field":"t","type":"quantitative","scale":{"domain":[0,250],"nice":false,"zero":false},"axis":{"orient":"bottom","values":[0,50,100,150,200],"tickSize":-10,"labels":false,"title":null}},
    "y":{"field":"ud","type":"quantitative","scale":{"domain":[-1,1],"nice":false,"zero":false},"axis":{"orient":"left","values":[-1,-0.5,0,0.5,1],"tickSize":-10,"format":".1f","title":null}}}},
  {"mark":{"type":"line","opacity":0},
   "encoding":{"x":{"field":"t","type":"quantitative","axis":{"orient":"bottom","values":[10,20,30,40,60,70,80,90,110,120,130,140,160,170,180,190,210,220,230,240],"tickSize":-5,"labels":false,"title":null}},
    "y":{"field":"ud","type":"quantitative","axis":{"orient":"left","values":[-0.75,-0.25,0.25,0.75],"tickSize":-5,"labels":false,"title":null}}}},
  {"mark":{"type":"line","opacity":0},
   "encoding":{"x":{"field":"t","type":"quantitative","axis":{"orient":"top","values":[0,50,100,150,200],"tickSize":-10,"labels":false,"title":null}},
    "y":{"field":"ud","type":"quantitative","axis":{"orient":"right","values":[-1,-0.5,0,0.5,1],"tickSize":-10,"labels":false,"title":null}}}},
  {"mark":{"type":"line","opacity":0},
   "encoding":{"x":{"field":"t","type":"quantitative","axis":{"orient":"top","values":[10,20,30,40,60,70,80,90,110,120,130,140,160,170,180,190,210,220,230,240],"tickSize":-5,"labels":false,"title":null}},
    "y":{"field":"ud","type":"quantitative","axis":{"orient":"right","values":[-0.75,-0.25,0.25,0.75],"tickSize":-5,"labels":false,"title":null}}}},
  {"data":{"values":[{"label":"PJAC\u00a0\u00a0\u00a0\u00a0UD"}]},
   "mark":{"type":"text","align":"right","baseline":"middle","fontSize":11,"color":"#808080","font":"Liberation Sans"},
   "encoding":{"x":{"datum":244,"type":"quantitative","axis":null},"y":{"datum":0.69,"type":"quantitative","axis":null},"text":{"field":"label"}}}
 ],
 "resolve":{"axis":{"x":"independent","y":"independent"}}},
{"width":575,"height":135,"data":{"name":"acc"},
 "layer":[
  {"mark":{"type":"line","color":"#ff0000","strokeWidth":0.8,"clip":true},
   "encoding":{"x":{"field":"t","type":"quantitative","scale":{"domain":[0,250],"nice":false,"zero":false},"axis":{"orient":"bottom","values":[0,50,100,150,200],"tickSize":-10,"labels":false,"title":null}},
    "y":{"field":"ns","type":"quantitative","scale":{"domain":[-1.58,1.11],"nice":false,"zero":false},"axis":{"orient":"left","values":[-1.5,-1,-0.5,0,0.5,1],"tickSize":-10,"format":".1f","title":"Amplitud [cm/s/s]","titlePadding":6}}}},
  {"mark":{"type":"line","opacity":0},
   "encoding":{"x":{"field":"t","type":"quantitative","axis":{"orient":"bottom","values":[10,20,30,40,60,70,80,90,110,120,130,140,160,170,180,190,210,220,230,240],"tickSize":-5,"labels":false,"title":null}},
    "y":{"field":"ns","type":"quantitative","axis":{"orient":"left","values":[-1.25,-0.75,-0.25,0.25,0.75],"tickSize":-5,"labels":false,"title":null}}}},
  {"mark":{"type":"line","opacity":0},
   "encoding":{"x":{"field":"t","type":"quantitative","axis":{"orient":"top","values":[0,50,100,150,200],"tickSize":-10,"labels":false,"title":null}},
    "y":{"field":"ns","type":"quantitative","axis":{"orient":"right","values":[-1.5,-1,-0.5,0,0.5,1],"tickSize":-10,"labels":false,"title":null}}}},
  {"mark":{"type":"line","opacity":0},
   "encoding":{"x":{"field":"t","type":"quantitative","axis":{"orient":"top","values":[10,20,30,40,60,70,80,90,110,120,130,140,160,170,180,190,210,220,230,240],"tickSize":-5,"labels":false,"title":null}},
    "y":{"field":"ns","type":"quantitative","axis":{"orient":"right","values":[-1.25,-0.75,-0.25,0.25,0.75],"tickSize":-5,"labels":false,"title":null}}}},
  {"data":{"values":[{"label":"PJAC\u00a0\u00a0\u00a0\u00a0NS"}]},
   "mark":{"type":"text","align":"right","baseline":"middle","fontSize":11,"color":"#808080","font":"Liberation Sans"},
   "encoding":{"x":{"datum":244,"type":"quantitative","axis":null},"y":{"datum":0.7,"type":"quantitative","axis":null},"text":{"field":"label"}}}
 ],
 "resolve":{"axis":{"x":"independent","y":"independent"}}},
{"width":575,"height":135,"data":{"name":"acc"},
 "layer":[
  {"mark":{"type":"line","color":"#ff0000","strokeWidth":0.8,"clip":true},
   "encoding":{"x":{"field":"t","type":"quantitative","scale":{"domain":[0,250],"nice":false,"zero":false},"axis":{"orient":"bottom","values":[0,50,100,150,200],"tickSize":-10,"labels":true,"format":"d","title":"Tiempo [s]","titlePadding":7}},
    "y":{"field":"ew","type":"quantitative","scale":{"domain":[-0.9,1.03],"nice":false,"zero":false},"axis":{"orient":"left","values":[-0.5,0,0.5,1],"tickSize":-10,"format":".1f","title":null}}}},
  {"mark":{"type":"line","opacity":0},
   "encoding":{"x":{"field":"t","type":"quantitative","axis":{"orient":"bottom","values":[10,20,30,40,60,70,80,90,110,120,130,140,160,170,180,190,210,220,230,240],"tickSize":-5,"labels":false,"title":null}},
    "y":{"field":"ew","type":"quantitative","axis":{"orient":"left","values":[-0.75,-0.25,0.25,0.75],"tickSize":-5,"labels":false,"title":null}}}},
  {"mark":{"type":"line","opacity":0},
   "encoding":{"x":{"field":"t","type":"quantitative","axis":{"orient":"top","values":[0,50,100,150,200],"tickSize":-10,"labels":false,"title":null}},
    "y":{"field":"ew","type":"quantitative","axis":{"orient":"right","values":[-0.5,0,0.5,1],"tickSize":-10,"labels":false,"title":null}}}},
  {"mark":{"type":"line","opacity":0},
   "encoding":{"x":{"field":"t","type":"quantitative","axis":{"orient":"top","values":[10,20,30,40,60,70,80,90,110,120,130,140,160,170,180,190,210,220,230,240],"tickSize":-5,"labels":false,"title":null}},
    "y":{"field":"ew","type":"quantitative","axis":{"orient":"right","values":[-0.75,-0.25,0.25,0.75],"tickSize":-5,"labels":false,"title":null}}}},
  {"data":{"values":[{"label":"PJAC\u00a0\u00a0\u00a0\u00a0EW"}]},
   "mark":{"type":"text","align":"right","baseline":"middle","fontSize":11,"color":"#808080","font":"Liberation Sans"},
   "encoding":{"x":{"datum":244,"type":"quantitative","axis":null},"y":{"datum":0.74,"type":"quantitative","axis":null},"text":{"field":"label"}}}
 ],
 "resolve":{"axis":{"x":"independent","y":"independent"}}}
]
}
